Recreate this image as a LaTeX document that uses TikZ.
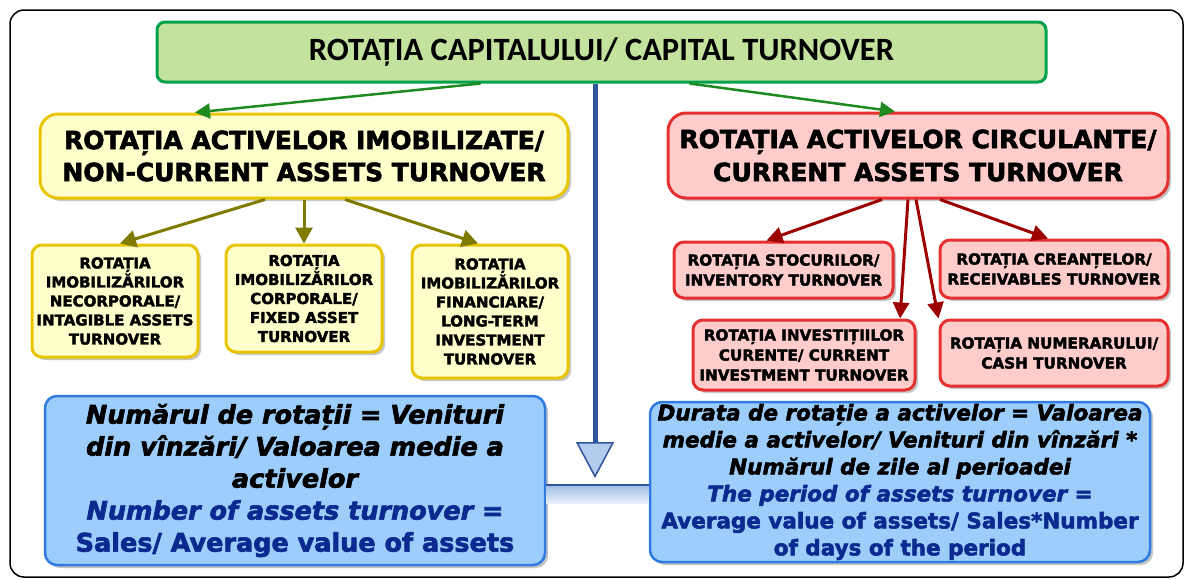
\documentclass[tikz,border=0pt]{standalone}
\usepackage{fontspec}
\usepackage{tikz}
\usetikzlibrary{arrows.meta,shadows}

\setmainfont{DejaVu Sans}
\newfontfamily\titlefont{Carlito}
\newfontfamily\heavyfont{DejaVu Sans}[BoldFeatures={FakeBold=2.5},BoldItalicFeatures={FakeBold=2.5}]
\newcommand{\fsize}[2]{\fontsize{#1}{#2}\selectfont}
\newcommand{\blk}{\itshape}
\newcommand{\blu}{\color{bluetext}}

\definecolor{titlefill}{HTML}{C3E29E}
\definecolor{titleline}{HTML}{00A04C}
\definecolor{arrgreen}{HTML}{1F8A1F}
\definecolor{yelfill}{HTML}{FFFFCC}
\definecolor{yelline}{HTML}{E8C500}
\definecolor{arrolive}{HTML}{7F7A00}
\definecolor{redfill}{HTML}{FFCCCC}
\definecolor{redline}{HTML}{E53030}
\definecolor{arrred}{HTML}{9C0000}
\definecolor{bluefill}{HTML}{9DCDFB}
\definecolor{blueline}{HTML}{2F7BE0}
\definecolor{bluetext}{HTML}{0B2A8F}
\definecolor{arrblue}{HTML}{2F559C}
\definecolor{tipblue}{HTML}{B4CCEE}
\definecolor{bandtop}{HTML}{9FBDE6}
\definecolor{bandbot}{HTML}{E8EFF9}

\begin{document}
\begin{tikzpicture}[x=1pt,y=-1pt,
	titlebox/.style={draw=titleline, fill=titlefill, line width=3pt, rounded corners=8pt, minimum width=889pt, minimum height=60pt, font=\titlefont\bfseries\fsize{32.5}{36}},
	shadowed/.style={drop shadow={shadow xshift=3pt, shadow yshift=-3pt, opacity=.45}},
	yelbox/.style={shadowed, draw=yelline, fill=yelfill, line width=3pt, align=center, inner sep=0pt, rounded corners=10pt},
	bigyel/.style={yelbox, rounded corners=18pt, font=\heavyfont\bfseries\fsize{25}{32}},
	smallyel/.style={yelbox, font=\heavyfont\bfseries\fsize{15}{19}},
	redbox/.style={shadowed, draw=redline, fill=redfill, line width=3pt, align=center, inner sep=0pt, rounded corners=10pt},
	bigred/.style={redbox, rounded corners=18pt, font=\heavyfont\bfseries\fsize{25}{33}},
	smallred/.style={redbox, font=\heavyfont\bfseries\fsize{15.2}{20}},
	bluebox/.style={shadowed, draw=blueline, fill=bluefill, line width=2.5pt, align=center, inner sep=0pt, rounded corners=12pt},
	greenarr/.style={draw=arrgreen, line width=2.5pt, -{Triangle[length=15pt,width=15pt]}},
	olivearr/.style={draw=arrolive, line width=3pt, -{Triangle[length=16pt,width=17pt]}},
	redarr/.style={draw=arrred, line width=3pt, -{Triangle[length=16pt,width=16pt]}}]

		\useasboundingbox (0,0) rectangle (1186,579);
		% draw frame
		\draw[line width=1.5pt, rounded corners=14pt] (10,10) rectangle (1183,577);

		% draw main boxes
		\draw (601.5,52) node[titlebox] (title) {ROTAȚIA CAPITALULUI/ CAPITAL TURNOVER};
		\draw (304,156) node[bigyel, minimum width=528pt, minimum height=84pt] (imob) {ROTAȚIA ACTIVELOR IMOBILIZATE/\\NON-CURRENT ASSETS TURNOVER};
		\draw (918,155.5) node[bigred, minimum width=500pt, minimum height=85pt] (circ) {ROTAȚIA ACTIVELOR CIRCULANTE/\\CURRENT ASSETS TURNOVER};

		% draw yellow boxes
		\draw (115,301) node[smallyel, minimum width=166pt, minimum height=112pt] (necorp) {ROTAȚIA\\IMOBILIZĂRILOR\\NECORPORALE/\\INTAGIBLE ASSETS\\TURNOVER};
		\draw (304,298.5) node[smallyel, minimum width=156pt, minimum height=107pt] (corp) {ROTAȚIA\\IMOBILIZĂRILOR\\CORPORALE/\\FIXED ASSET\\TURNOVER};
		\draw (490,311.5) node[smallyel, minimum width=156pt, minimum height=133pt] (fin) {ROTAȚIA\\IMOBILIZĂRILOR\\FINANCIARE/\\LONG-TERM\\INVESTMENT\\TURNOVER};

		% draw red boxes
		\draw (783.5,270) node[smallred, minimum width=219pt, minimum height=56pt] (stoc) {ROTAȚIA STOCURILOR/\\INVENTORY TURNOVER};
		\draw (1054,269) node[smallred, minimum width=228pt, minimum height=58pt] (crean) {ROTAȚIA CREANȚELOR/\\RECEIVABLES TURNOVER};
		\draw (804,355) node[smallred, minimum width=222pt, minimum height=70pt] (invcur) {ROTAȚIA INVESTIȚIILOR\\CURENTE/ CURRENT\\INVESTMENT TURNOVER};
		\draw (1054,353) node[smallred, minimum width=228pt, minimum height=66pt] (numer) {ROTAȚIA NUMERARULUI/\\CASH TURNOVER};

		% draw formula boxes
		\draw (295,480.5) node[bluebox, minimum width=500pt, minimum height=169pt, font=\heavyfont\bfseries\fsize{25.5}{32}] (nrrot) {\blk Numărul de rotații = Venituri\\\blk din vînzări/ Valoarea medie a\\\blk activelor\\\blu\blk Number of assets turnover =\\\blu Sales/ Average value of assets};
		\draw (900,482) node[bluebox, minimum width=500pt, minimum height=160pt, font=\heavyfont\bfseries\fsize{21.5}{27}] (durata) {\blk Durata de rotație a activelor = Valoarea\\\blk medie a activelor/ Venituri din vînzări *\\\blk Numărul de zile al perioadei\\\blu\blk The period of assets turnover =\\\blu Average value of assets/ Sales*Number\\\blu of days of the period};

		% draw arrows
		\draw[greenarr] ([xshift=-121pt]title.south) -- ([xshift=-109pt]imob.north);
		\draw[greenarr] ([xshift=88pt]title.south) -- ([xshift=-23pt]circ.north);
		\draw[olivearr] ([xshift=-39pt]imob.south) -- ([xshift=5pt]necorp.north);
		\draw[olivearr] (imob.south) -- (corp.north);
		\draw[olivearr] ([xshift=41pt]imob.south) -- ([xshift=-12pt]fin.north);
		\draw[redarr] ([xshift=-36pt]circ.south) -- ([xshift=-17pt]stoc.north);
		\draw[redarr] ([xshift=-10pt]circ.south) -- ([xshift=96pt]invcur.north);
		\draw[redarr] ([xshift=-2pt]circ.south) -- (numer.north west);
		\draw[redarr] ([xshift=22pt]circ.south) -- ([xshift=-6pt]crean.north);

		% draw blue arrow and band
		\coordinate (tip) at (595,478);
		\draw[arrblue, line width=5pt, -{Triangle[length=36pt,width=38pt,fill=tipblue,line width=1.5pt]}] (title.south -| tip) -- (tip);
		\shade[top color=bandtop, bottom color=bandbot] ([yshift=-4.5pt]nrrot.east) rectangle ([yshift=-21pt]durata.west);
		\draw[arrblue, line width=2.5pt] ([yshift=-4.5pt]nrrot.east) -- ([yshift=-4.5pt]nrrot.east -| durata.west);
	\end{tikzpicture}
\end{document}
